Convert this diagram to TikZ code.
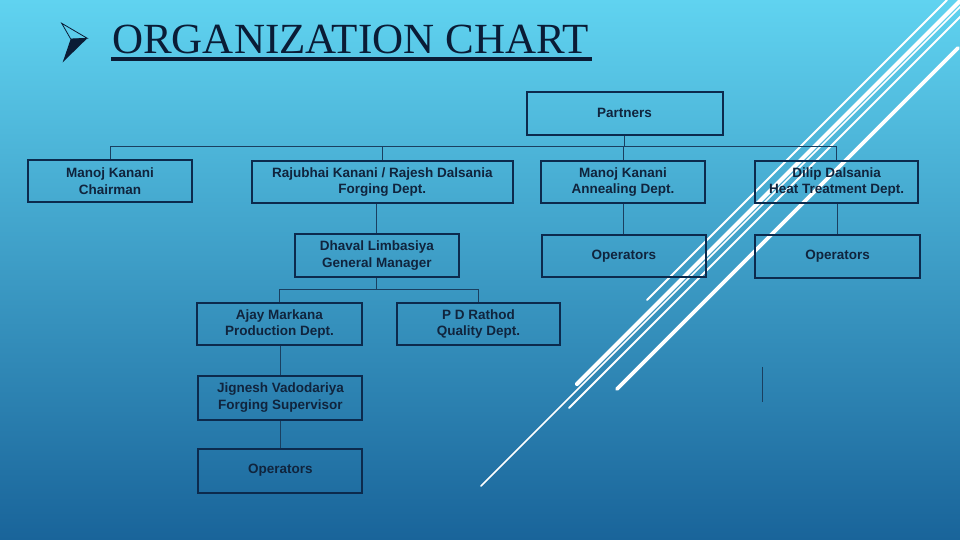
\documentclass[tikz,border=0pt]{standalone}
\usepackage{fontspec}
\setmainfont{Liberation Sans}
\newfontfamily\titlefont{Liberation Serif}
\definecolor{titlec}{HTML}{0A1C36}
\definecolor{boxc}{HTML}{0C2A4D}
\definecolor{txtc}{HTML}{10243D}
\definecolor{connc}{HTML}{1A3F60}
\definecolor{bgtop}{HTML}{60D3F0}
\definecolor{bgmid}{HTML}{3AA2D0}
\definecolor{bgbot}{HTML}{19649A}
\tikzset{
  orgbox/.style={draw=boxc, line width=2pt, text=txtc, align=center,
    font=\bfseries\fontsize{13.5}{16.5}\selectfont, inner sep=0pt},
  conn/.style={draw=connc, line width=1pt},
  stripe/.style={draw=white, line cap=round},
}
\begin{document}
\begin{tikzpicture}[x=1pt,y=-1pt]
\useasboundingbox (0,0) rectangle (960,540);
\shade[top color=bgtop, middle color=bgmid, bottom color=bgbot] (0,0) rectangle (960,540);

% title
\fill[titlec] (70.7,39) -- (87.3,38.3) -- (62.7,62.3) -- cycle;
\draw[titlec, line width=0.8pt, line join=miter] (61.7,23.3) -- (87.3,38.3) -- (70.7,39) -- cycle;
\node[anchor=base west, font=\titlefont\fontsize{43}{43}\selectfont, text=titlec, inner sep=0pt] (title) at (112,54) {ORGANIZATION CHART};
\draw[titlec, line width=3.5pt] ([xshift=-1pt,yshift=-5pt]title.base west) -- ([xshift=3pt,yshift=-5pt]title.base east);

% decorative stripes
\begin{scope}
\clip (0,0) rectangle (960,540);
\draw[stripe, line width=1.8pt] (647,300) -- (947,0);
\draw[stripe, line width=4.2pt] (577,384) -- (965,-4);
\draw[stripe, line width=1.6pt] (481,486) -- (975,-8);
\draw[stripe, line width=1.8pt] (569,408) -- (985,-8);
\draw[stripe, line width=3.6pt] (617,389) -- (958,48);
\end{scope}

% boxes
\node[orgbox, minimum width=196pt, minimum height=43.4pt] (partners) at (624.5,113.3) {Partners};
\node[orgbox, minimum width=164.6pt, minimum height=42.7pt] (chair) at (110,181) {Manoj Kanani\\Chairman};
\node[orgbox, minimum width=261.5pt, minimum height=42.4pt] (raju) at (382.3,182) {Rajubhai Kanani / Rajesh Dalsania\\Forging Dept.};
\node[orgbox, minimum width=164.7pt, minimum height=42.4pt] (anneal) at (623,182) {Manoj Kanani\\Annealing Dept.};
\node[orgbox, minimum width=163.5pt, minimum height=42.4pt] (dilip) at (836.6,182) {Dilip Dalsania\\Heat Treatment Dept.};
\node[orgbox, minimum width=164.7pt, minimum height=43.4pt] (dhaval) at (376.9,255.5) {Dhaval Limbasiya\\General Manager};
\node[orgbox, minimum width=164.2pt, minimum height=42.7pt] (opA) at (623.9,255.9) {Operators};
\node[orgbox, minimum width=164.1pt, minimum height=43.8pt] (opD) at (837.5,256.4) {Operators};
\node[orgbox, minimum width=165.9pt, minimum height=42.7pt] (ajay) at (279.5,324) {Ajay Markana\\Production Dept.};
\node[orgbox, minimum width=163.5pt, minimum height=42.7pt] (pd) at (478.5,324) {P D Rathod\\Quality Dept.};
\node[orgbox, minimum width=164pt, minimum height=43.8pt] (jig) at (280.4,397.6) {Jignesh Vadodariya\\Forging Supervisor};
\node[orgbox, minimum width=164pt, minimum height=43.8pt] (opJ) at (280.4,470.6) {Operators};

% connectors
\coordinate (bus) at (0,147);
\coordinate (bus2) at (0,289.3);
\draw[conn] (chair.north) -- (chair.north |- bus) -- (dilip.north |- bus) -- (dilip.north);
\draw[conn] (raju.north) -- (raju.north |- bus);
\draw[conn] (anneal.north) -- (anneal.north |- bus);
\draw[conn] (partners.south) -- (partners.south |- bus);
\draw[conn] (raju.south -| dhaval.north) -- (dhaval.north);
\draw[conn] (dhaval.south) -- (dhaval.south |- bus2);
\draw[conn] (ajay.north) -- (ajay.north |- bus2) -- (pd.north |- bus2) -- (pd.north);
\draw[conn] (ajay.south -| jig.north) -- (jig.north);
\draw[conn] (jig.south) -- (opJ.north);
\draw[conn] (anneal.south -| opA.north) -- (opA.north);
\draw[conn] (dilip.south -| opD.north) -- (opD.north);

% stray vertical line
\coordinate (strayA) at (762.3,366.8);
\coordinate (strayB) at (762.3,401.9);
\draw[conn] (strayA) -- (strayB);
\end{tikzpicture}
\end{document}
